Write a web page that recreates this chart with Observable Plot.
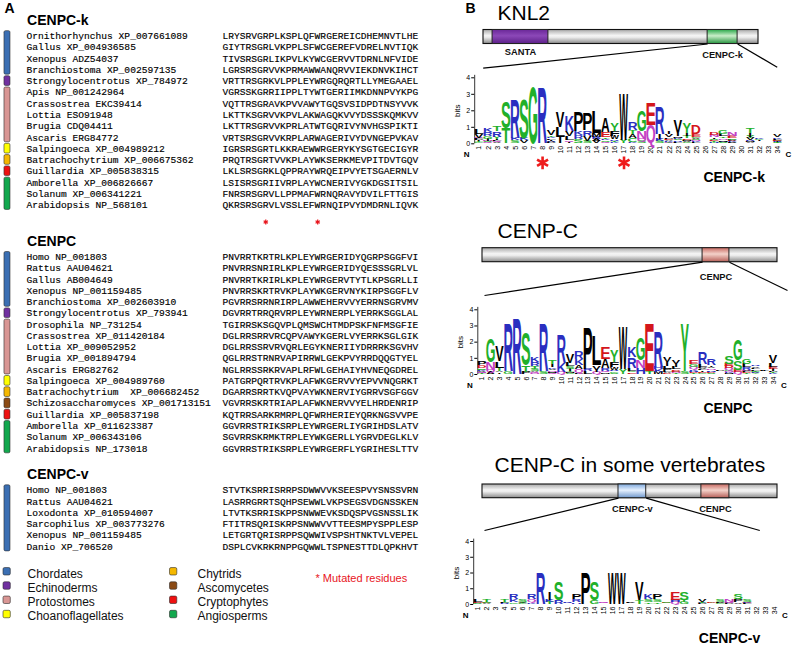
<!DOCTYPE html>
<html><head><meta charset="utf-8">
<script src="https://cdn.jsdelivr.net/npm/d3@7"></script>
<script src="https://cdn.jsdelivr.net/npm/@observablehq/plot@0.6"></script>
<style>
html,body{margin:0;padding:0;background:#fff;}
#fig{position:relative;width:792px;height:645px;overflow:hidden;background:#fff;}
#fig > div{position:absolute;}
#fig svg{display:block;max-width:none;overflow:visible;}
#fig text{white-space:pre;}
</style></head><body><div id="fig"></div>
<script>
// ================= DATA =================
const kNames = ["Ornithorhynchus XP_007661089","Gallus XP_004936585","Xenopus ADZ54037","Branchiostoma XP_002597135","Strongylocentrotus XP_784972","Apis NP_001242964","Crassostrea EKC39414","Lottia ESO91948","Brugia CDQ04411","Ascaris ERG84772","Salpingoeca XP_004989212","Batrachochytrium XP_006675362","Guillardia XP_005838315","Amborella XP_006826667","Solanum XP_006341221","Arabidopsis NP_568101"];
const kSeqs = ["LRYSRVGRPLKSPLQFWRGEREICDHEMNVTLHE","GIYTRSGRLVKPPLSFWCGEREFVDRELNVTIQK","TIVSRSGRLIKPVLKYWCGERVVTDRNLNFVIDE","LGRSRSGRVVKPRMAWWANQRVVIEKDNVKIHCT","VRTTRSGRKVLPPLEYWRGQRQRTLLYMEGAAEL","VGRSSKGRRIIPPLTYWTGERIIMKDNNPVYKPG","VQTTRSGRAVKPVVAWYTGQSVSIDPDTNSYVVK","LKTTKSGRVVKPVLAKWAGQKVVYDSSSKQMKVV","LKTTRSGRVVKPRLATWTGQRIVYNVHGSPIKTI","VRTSRSGRVVKRPLARWAGERIVYDVNGEPVKAV","IGRSRSGRTLKKRAEWWRGERYKYSGTGECIGYR","PRQTRSGRTVVKPLAYWKSERKMEVPITDVTGQV","LKLSRSGRKLQPPRAYWRQEIPVYETSGAERNLV","LSISRSGRIIVRPLAYWCNERIVYGKDGSITSIL","FNRSRSGRVLLPPMAFWRNQRAVYDVILFTTGIS","QKRSRSGRVLVSSLEFWRNQIPVYDMDRNLIQVK"];
const kGroups = ["Chordates","Chordates","Chordates","Chordates","Echinoderms","Protostomes","Protostomes","Protostomes","Protostomes","Protostomes","Choanoflagellates","Chytrids","Cryptophytes","Angiosperms","Angiosperms","Angiosperms"];
const kMutated = [8, 17];

const cNames = ["Homo NP_001803","Rattus AAU04621","Gallus AB004649","Xenopus NP_001159485","Branchiostoma XP_002603910","Strongylocentrotus XP_793941","Drosophila NP_731254","Crassostrea XP_011420184","Lottia XP_009052952","Brugia XP_001894794","Ascaris ERG82762","Salpingoeca XP_004989760","Batrachochytrium  XP_006682452","Schizosaccharomyces XP_001713151","Guillardia XP_005837198","Amborella XP_011623387","Solanum XP_006343106","Arabidopsis NP_173018"];
const cSeqs = ["PNVRRTKRTRLKPLEYWRGERIDYQGRPSGGFVI","PNVRRSNRIRLKPLEYWRGERIDYQESSSGRLVL","PNVRRTKRIRLKPLEYWRGERVTYTLKPSGRLLI","PNVRRSKRTRVKPLAYWKGERVNYKIRPSGGFLV","PGVRRSRRNRIRPLAWWEHERVVYERRNSGRVMV","DGVRRTRRQRVRPLEYWRNERPLYERRKSGGLAL","TGIRRSKSGQVPLQMSWCHTMDPSKFNFMSGFIE","DGLRRSRRVRCQPVAWYKGERLVYERRKSGLGIK","DGLRRSSRVRVQRLEGYKNERIIYDRRRKSGVHV","QGLRRSTRNRVAPIRRWLGEKPVYRRDQQGTYEL","NGLRRSSRKRVAPLRFWLGEHAIYHVNEQGDREL","PATGRPQRTRVKPLAFWKGERVVYEPVVNQGRKT","DGARRSRRTKVQPVAYWKNERVIYGRRVSGFGGV","VGVRRSKRTRIAPLAFWKNERVVYELHRDENRIP","KQTRRSARKRMRPLQFWRHERIEYQRKNGSVVPE","GGVRRSTRIKSRPLEYWRGERLIYGRIHDSLATV","SGVRRSKRMKTRPLEYWKGERLLYGRVDEGLKLV","GGVRRSTRIKSRPLEYWRGERFLYGRIHESLTTV"];
const cGroups = ["Chordates","Chordates","Chordates","Chordates","Chordates","Echinoderms","Protostomes","Protostomes","Protostomes","Protostomes","Protostomes","Choanoflagellates","Chytrids","Ascomycetes","Cryptophytes","Angiosperms","Angiosperms","Angiosperms"];

const vNames = ["Homo NP_001803","Rattus AAU04621","Loxodonta XP_010594007","Sarcophilus XP_003773276","Xenopus NP_001159485","Danio XP_706520"];
const vSeqs = ["STVTKSRRISRRPSDWWVVKSEESPVYSNSSVRN","LASRRGRRTSQHPSEWWLVKPSEGSVDGNSSKEN","LTVTKSRRISKPPSNWWEVKSDQSPVGSNSSLIK","FTITRSQRISKRPSNWWVVTTEESMPYSPPLESP","LETGRTQRISRPPSQWWIVSPSHTNKTVLVEPEL","DSPLCVKRKRNPPGQWWLTSPNESTTDLQPKHVT"];
const vGroups = ["Chordates","Chordates","Chordates","Chordates","Chordates","Chordates"];

const blockTitles = ["CENPC-k", "CENPC", "CENPC-v"];
const legendNames = ["Chordates","Echinoderms","Protostomes","Choanoflagellates","Chytrids","Ascomycetes","Cryptophytes","Angiosperms"];
const legendColors = ["#3b6fb3","#7030a0","#d99694","#ffff00","#f5b800","#8b4a14","#ee1111","#12a84e"];
const mutatedLabel = "* Mutated residues";

const sectionTitles = ["KNL2", "CENP-C", "CENP-C in some vertebrates"];
const knl2Domains = [{name: "SANTA", from: 0.033, to: 0.236, grad: "gSanta"}, {name: "CENPC-k", from: 0.815, to: 0.924, grad: "gGreen"}];
const cenpcDomains = [{name: "CENPC", from: 0.746, to: 0.837, grad: "gPink"}];
const vertDomains = [{name: "CENPC-v", from: 0.461, to: 0.555, grad: "gBlue"}, {name: "CENPC", from: 0.742, to: 0.837, grad: "gPink"}];
const logoNames = ["CENPC-k", "CENPC", "CENPC-v"];

// amino-acid colour classes (chemistry scheme)
const aaClasses = [["GSTYC", "#21b02a"], ["NQ", "#c23fc4"], ["KRH", "#2a2ec0"], ["DE", "#d4161c"], ["AVLIPWFM", "#000000"]];

// ================= HELPERS =================
const SANS = "Liberation Sans, Arial, Helvetica, sans-serif";
const MONO = "Liberation Mono, Courier New, monospace";
const NS = "http://www.w3.org/2000/svg";
const fig = document.getElementById("fig");
function place(node, left, top) {
  const d = document.createElement("div");
  d.style.left = left + "px"; d.style.top = top + "px";
  d.appendChild(node); fig.appendChild(d);
}
const groupColor = Object.fromEntries(legendNames.map((n, i) => [n, legendColors[i]]));
const aaColor = {};
aaClasses.forEach(([s, c]) => { for (const a of s) aaColor[a] = c; });

// ================= PANEL A =================
const CW = 5.77, LH = 11.27, AW = 440, H = 645, Y0 = -3.15;
const nameCol = 26 / CW, seqCol = 222 / CW;
const blocksA = [
  {title: blockTitles[0], names: kNames, seqs: kSeqs, groups: kGroups, mutated: kMutated},
  {title: blockTitles[1], names: cNames, seqs: cSeqs, groups: cGroups},
  {title: blockTitles[2], names: vNames, seqs: vSeqs, groups: vGroups}
];
const rowsA = [], barsA = [], titlesA = [], asterA = [];
let line = -1.4, lastRow = 0;
for (const b of blocksA) {
  titlesA.push({line, text: b.title});
  const r0 = line + 1.4;
  b.names.forEach((nm, i) => rowsA.push({line: r0 + i, name: nm, seq: b.seqs[i]}));
  let i = 0;
  while (i < b.groups.length) {
    let j = i;
    while (j + 1 < b.groups.length && b.groups[j + 1] === b.groups[i]) j++;
    barsA.push({group: b.groups[i], y1: r0 + i - 0.43, y2: r0 + j + 0.43});
    i = j + 1;
  }
  lastRow = r0 + b.names.length - 1;
  let last = lastRow;
  if (b.mutated) { b.mutated.forEach(p => asterA.push({pos: p, line: last + 1.5})); last += 0.9; }
  line = last + 2.3;
}
const legL0 = lastRow + 2.42;
const legendA = legendNames.map((n, i) => {
  const col = Math.floor(i / 4), r = i % 4;
  const ln = legL0 + r * 1.265;
  const sx = col === 0 ? 3 : 169.5;
  return {name: n, color: legendColors[i], x1: sx / CW, x2: (sx + 7.3) / CW, tx: (col === 0 ? 27 : 197) / CW,
          line: ln, y1: ln - 0.18 - 0.33, y2: ln - 0.18 + 0.33};
});

const plotA = Plot.plot({
  width: AW, height: H, margin: 0,
  x: {domain: [0, AW / CW], range: [0, AW], axis: null},
  y: {domain: [Y0, H / LH + Y0], range: [0, H], axis: null},
  color: {type: "identity"},
  style: {background: "transparent", fontFamily: SANS, overflow: "visible"},
  marks: [
    Plot.text(["A"], {x: 4 / CW, y: -2.47, text: d => d, textAnchor: "start", fontWeight: "bold", fontSize: 14, fill: "#000"}),
    Plot.text(titlesA, {x: nameCol + 0.1, y: "line", text: "text", textAnchor: "start", fontWeight: "bold", fontSize: 14, fill: "#000"}),
    Plot.rect(barsA, {x1: 0.69, x2: 1.73, y1: "y1", y2: "y2", fill: d => groupColor[d.group], stroke: "#2b2b2b", strokeOpacity: 0.75, strokeWidth: 0.8, rx: 1.5}),
    Plot.text(rowsA, {x: nameCol, y: "line", text: "name", textAnchor: "start", fontFamily: MONO, fontSize: 9.6, fill: "#000", stroke: "#000", strokeWidth: 0.15}),
    Plot.text(rowsA, {x: seqCol, y: "line", text: "seq", textAnchor: "start", fontFamily: MONO, fontSize: 9.6, fill: "#000", stroke: "#000", strokeWidth: 0.15}),
    Plot.dot(asterA, {x: d => seqCol + d.pos - 0.5, y: "line", symbol: "asterisk", r: 2.3, stroke: "#e8141c", strokeWidth: 1.2}),
    Plot.rect(legendA, {x1: "x1", x2: "x2", y1: "y1", y2: "y2", fill: "color", stroke: "#2b2b2b", strokeOpacity: 0.75, strokeWidth: 0.8, rx: 1.5}),
    Plot.text(legendA, {x: "tx", y: "line", text: "name", textAnchor: "start", fontSize: 12, fill: "#111"}),
    Plot.text([mutatedLabel], {x: 315 / CW, y: legL0 + 0.41, text: d => d, textAnchor: "start", fontSize: 11, fill: "#e8141c"})
  ]
});
place(plotA, 0, 0);

// ================= PANEL B: domain diagrams =================
const BX0 = 440, BW = 352;
const secLayout = [
  {domains: knl2Domains, titleX: 497, titleY: 12.5, bx0: 483, bx1: 758, by0: 29.5, by1: 43.5, labelY: [52, 54.5], zoom: 1, ends: [[482.7, 67.7], [776.7, 66.7]], bigX: 733.7, bigY: 177.2},
  {domains: cenpcDomains, titleX: 497, titleY: 230.5, bx0: 482, bx1: 777, by0: 247.7, by1: 261.7, labelY: [276.7], zoom: 0, ends: [[484, 295], [787, 290]], bigX: 727.5, bigY: 408},
  {domains: vertDomains, titleX: 494, titleY: 465, bx0: 482, bx1: 777, by0: 484, by1: 497.7, labelY: [508.3, 508.3], zoom: 0, ends: [[484, 530], [759.3, 530]], bigX: 729, bigY: 638.3}
];
const barsB = [], domsB = [], domLabels = [], linksB = [], titlesB = [], bigB = [];
secLayout.forEach((s, k) => {
  const fx = f => s.bx0 + f * (s.bx1 - s.bx0);
  barsB.push({x1: s.bx0, x2: s.bx1, y1: s.by0, y2: s.by1});
  s.domains.forEach((d, j) => {
    domsB.push({x1: fx(d.from), x2: fx(d.to), y1: s.by0, y2: s.by1, grad: d.grad});
    domLabels.push({x: fx((d.from + d.to) / 2), y: s.labelY[j], text: d.name});
  });
  const z = s.domains[s.zoom];
  linksB.push({x1: fx(z.from), y1: s.by1, x2: s.ends[0][0], y2: s.ends[0][1]});
  linksB.push({x1: fx(z.to), y1: s.by1, x2: s.ends[1][0], y2: s.ends[1][1]});
  titlesB.push({x: s.titleX, y: s.titleY, text: sectionTitles[k]});
  bigB.push({x: s.bigX, y: s.bigY, text: logoNames[k]});
});
const gradients = [
  ["gGray", [[0, "#a9a9a9"], [0.42, "#f4f4f4"], [0.55, "#ededed"], [1, "#8a8a8a"]]],
  ["gSanta", [[0, "#6a2898"], [0.45, "#8c48b8"], [1, "#5c2088"]]],
  ["gGreen", [[0, "#2aa84a"], [0.45, "#c9eec9"], [1, "#27943f"]]],
  ["gPink", [[0, "#c76a62"], [0.45, "#f4d2ca"], [1, "#b65f58"]]],
  ["gBlue", [[0, "#7ea8dc"], [0.45, "#e6f1ff"], [1, "#7098cc"]]]
];
function defsMark() {
  const defs = document.createElementNS(NS, "defs");
  for (const [id, stops] of gradients) {
    const lg = document.createElementNS(NS, "linearGradient");
    lg.setAttribute("id", id); lg.setAttribute("x1", "0"); lg.setAttribute("y1", "0"); lg.setAttribute("x2", "0"); lg.setAttribute("y2", "1");
    for (const [o, c] of stops) {
      const st = document.createElementNS(NS, "stop");
      st.setAttribute("offset", o); st.setAttribute("stop-color", c);
      lg.appendChild(st);
    }
    defs.appendChild(lg);
  }
  return defs;
}
const gradIds = [...new Set(domsB.map(d => d.grad))];
const plotB = Plot.plot({
  width: BW, height: H, margin: 0,
  x: {domain: [BX0, BX0 + BW], range: [0, BW], axis: null},
  y: {domain: [0, H], range: [0, H], axis: null},
  style: {background: "transparent", fontFamily: SANS, overflow: "visible"},
  marks: [
    defsMark,
    Plot.text(["B"], {x: 465, y: 8, text: d => d, textAnchor: "start", fontWeight: "bold", fontSize: 14, fill: "#000"}),
    Plot.text(titlesB, {x: "x", y: "y", text: "text", textAnchor: "start", fontSize: 21, fill: "#000"}),
    Plot.rect(barsB, {x1: "x1", x2: "x2", y1: "y1", y2: "y2", fill: "url(#gGray)", stroke: "#111", strokeWidth: 1.1}),
    ...gradIds.map(g => Plot.rect(domsB.filter(d => d.grad === g), {x1: "x1", x2: "x2", y1: "y1", y2: "y2", fill: `url(#${g})`, stroke: "#222", strokeWidth: 1})),
    Plot.text(domLabels, {x: "x", y: "y", text: "text", fontWeight: "bold", fontSize: 9.3, fill: "#111"}),
    Plot.link(linksB, {x1: "x1", y1: "y1", x2: "x2", y2: "y2", stroke: "#000", strokeWidth: 1.2}),
    Plot.text(bigB, {x: "x", y: "y", text: "text", fontWeight: "bold", fontSize: 14, fill: "#000"})
  ]
});
place(plotB, BX0, 0);

// ================= PANEL B: sequence logos =================
function logoStacks(seqs) {
  const n = seqs.length, L = seqs[0].length;
  const eN = 19 / (2 * Math.LN2 * n);   // small-sample correction
  const out = [];
  for (let p = 0; p < L; p++) {
    const counts = d3.rollup(seqs, v => v.length, s => s[p]);
    let Hs = 0;
    for (const c of counts.values()) { const f = c / n; Hs -= f * Math.log2(f); }
    const R = Math.max(0, Math.log2(20) - Hs - eN);
    const letters = [...counts].map(([a, c]) => ({a, h: c / n * R})).sort((u, v) => u.h - v.h);
    let y = 0;
    for (const l of letters) { out.push({pos: p + 1, letter: l.a, y1: y, y2: y + l.h}); y += l.h; }
  }
  return out;
}
// approximate ink widths (em) of bold sans capitals
const inkW = {A:.72,C:.63,D:.62,E:.55,F:.5,G:.68,H:.58,I:.2,K:.66,L:.52,M:.7,N:.58,P:.57,Q:.68,R:.64,S:.59,T:.6,V:.67,W:.94,Y:.67};
function lettersMark(stacks) {
  return function(...args) {
    const g = document.createElementNS(NS, "g");
    const sc = args.find(a => a && typeof a.x === "function" && typeof a.y === "function");
    if (!sc) return g;
    const F = 100;
    for (const d of stacks) {
      const xa = sc.x(d.pos - 0.5), xb = sc.x(d.pos + 0.5);
      const yb = sc.y(d.y1), yt = sc.y(d.y2);
      const h = yb - yt;
      if (h < 0.3) continue;
      const w = (xb - xa) * (d.letter === "I" ? 0.3 : 0.96);
      const sx = w / ((d.letter === "I" ? 0.2 : inkW[d.letter] || 0.6) * F);
      const sy = h / (0.716 * F);
      const t = document.createElementNS(NS, "text");
      t.textContent = d.letter;
      t.setAttribute("transform", `translate(${(xa + xb) / 2},${yb}) scale(${sx},${sy})`);
      t.setAttribute("text-anchor", "middle");
      t.setAttribute("font-size", F);
      t.setAttribute("font-weight", "bold");
      t.setAttribute("font-family", SANS);
      t.setAttribute("fill", aaColor[d.letter] || "#000");
      g.appendChild(t);
    }
    return g;
  };
}
function logoPlot(seqs, geo, mutated) {
  const stacks = logoStacks(seqs);
  const marks = [
    Plot.ruleX([0.5], {y1: 0, y2: 4.15, stroke: "#000", strokeWidth: 0.8}),
    lettersMark(stacks),
    Plot.text(["bits"], {x: 0.5, y: 2, dx: -17, text: d => d, rotate: -90, fontSize: 8, fill: "#000"}),
    Plot.text(["N"], {x: 0.5, y: 0, dx: -8, dy: 11, text: d => d, fontWeight: "bold", fontSize: 8, fill: "#000"}),
    Plot.text(["C"], {x: 34.5, y: 0, dx: 6, dy: 11, text: d => d, fontWeight: "bold", fontSize: 8, fill: "#000"})
  ];
  if (mutated) marks.push(Plot.dot(mutated, {x: d => d, y: 0, dy: 19, symbol: "asterisk", r: 6, stroke: "#ee1c1c", strokeWidth: 2.6}));
  return Plot.plot({
    width: geo.w, height: geo.h,
    marginLeft: geo.ml, marginRight: geo.mr, marginTop: geo.mt, marginBottom: geo.mb,
    style: {background: "transparent", fontFamily: SANS, fontSize: "7px", overflow: "visible", color: "#000"},
    x: {domain: [0.5, 34.5], ticks: d3.range(1, 35), tickFormat: d => String(d), tickRotate: -90, tickSize: 0, tickPadding: 2, label: null},
    y: {domain: [0, 4], ticks: [0, 1, 2, 3, 4], tickFormat: d => String(d), tickSize: 3, tickPadding: 1.5, label: null},
    marks
  });
}
place(logoPlot(kSeqs, {w: 352, h: 114, ml: 34.2, mr: 10.1, mt: 17.3, mb: 30.7}, kMutated), 440, 60);
place(logoPlot(cSeqs, {w: 352, h: 114, ml: 37.3, mr: 14.5, mt: 19.3, mb: 30}), 440, 290);
place(logoPlot(vSeqs, {w: 352, h: 110, ml: 33.2, mr: 13.5, mt: 19, mb: 28}), 440, 522);
</script>
</body></html>
